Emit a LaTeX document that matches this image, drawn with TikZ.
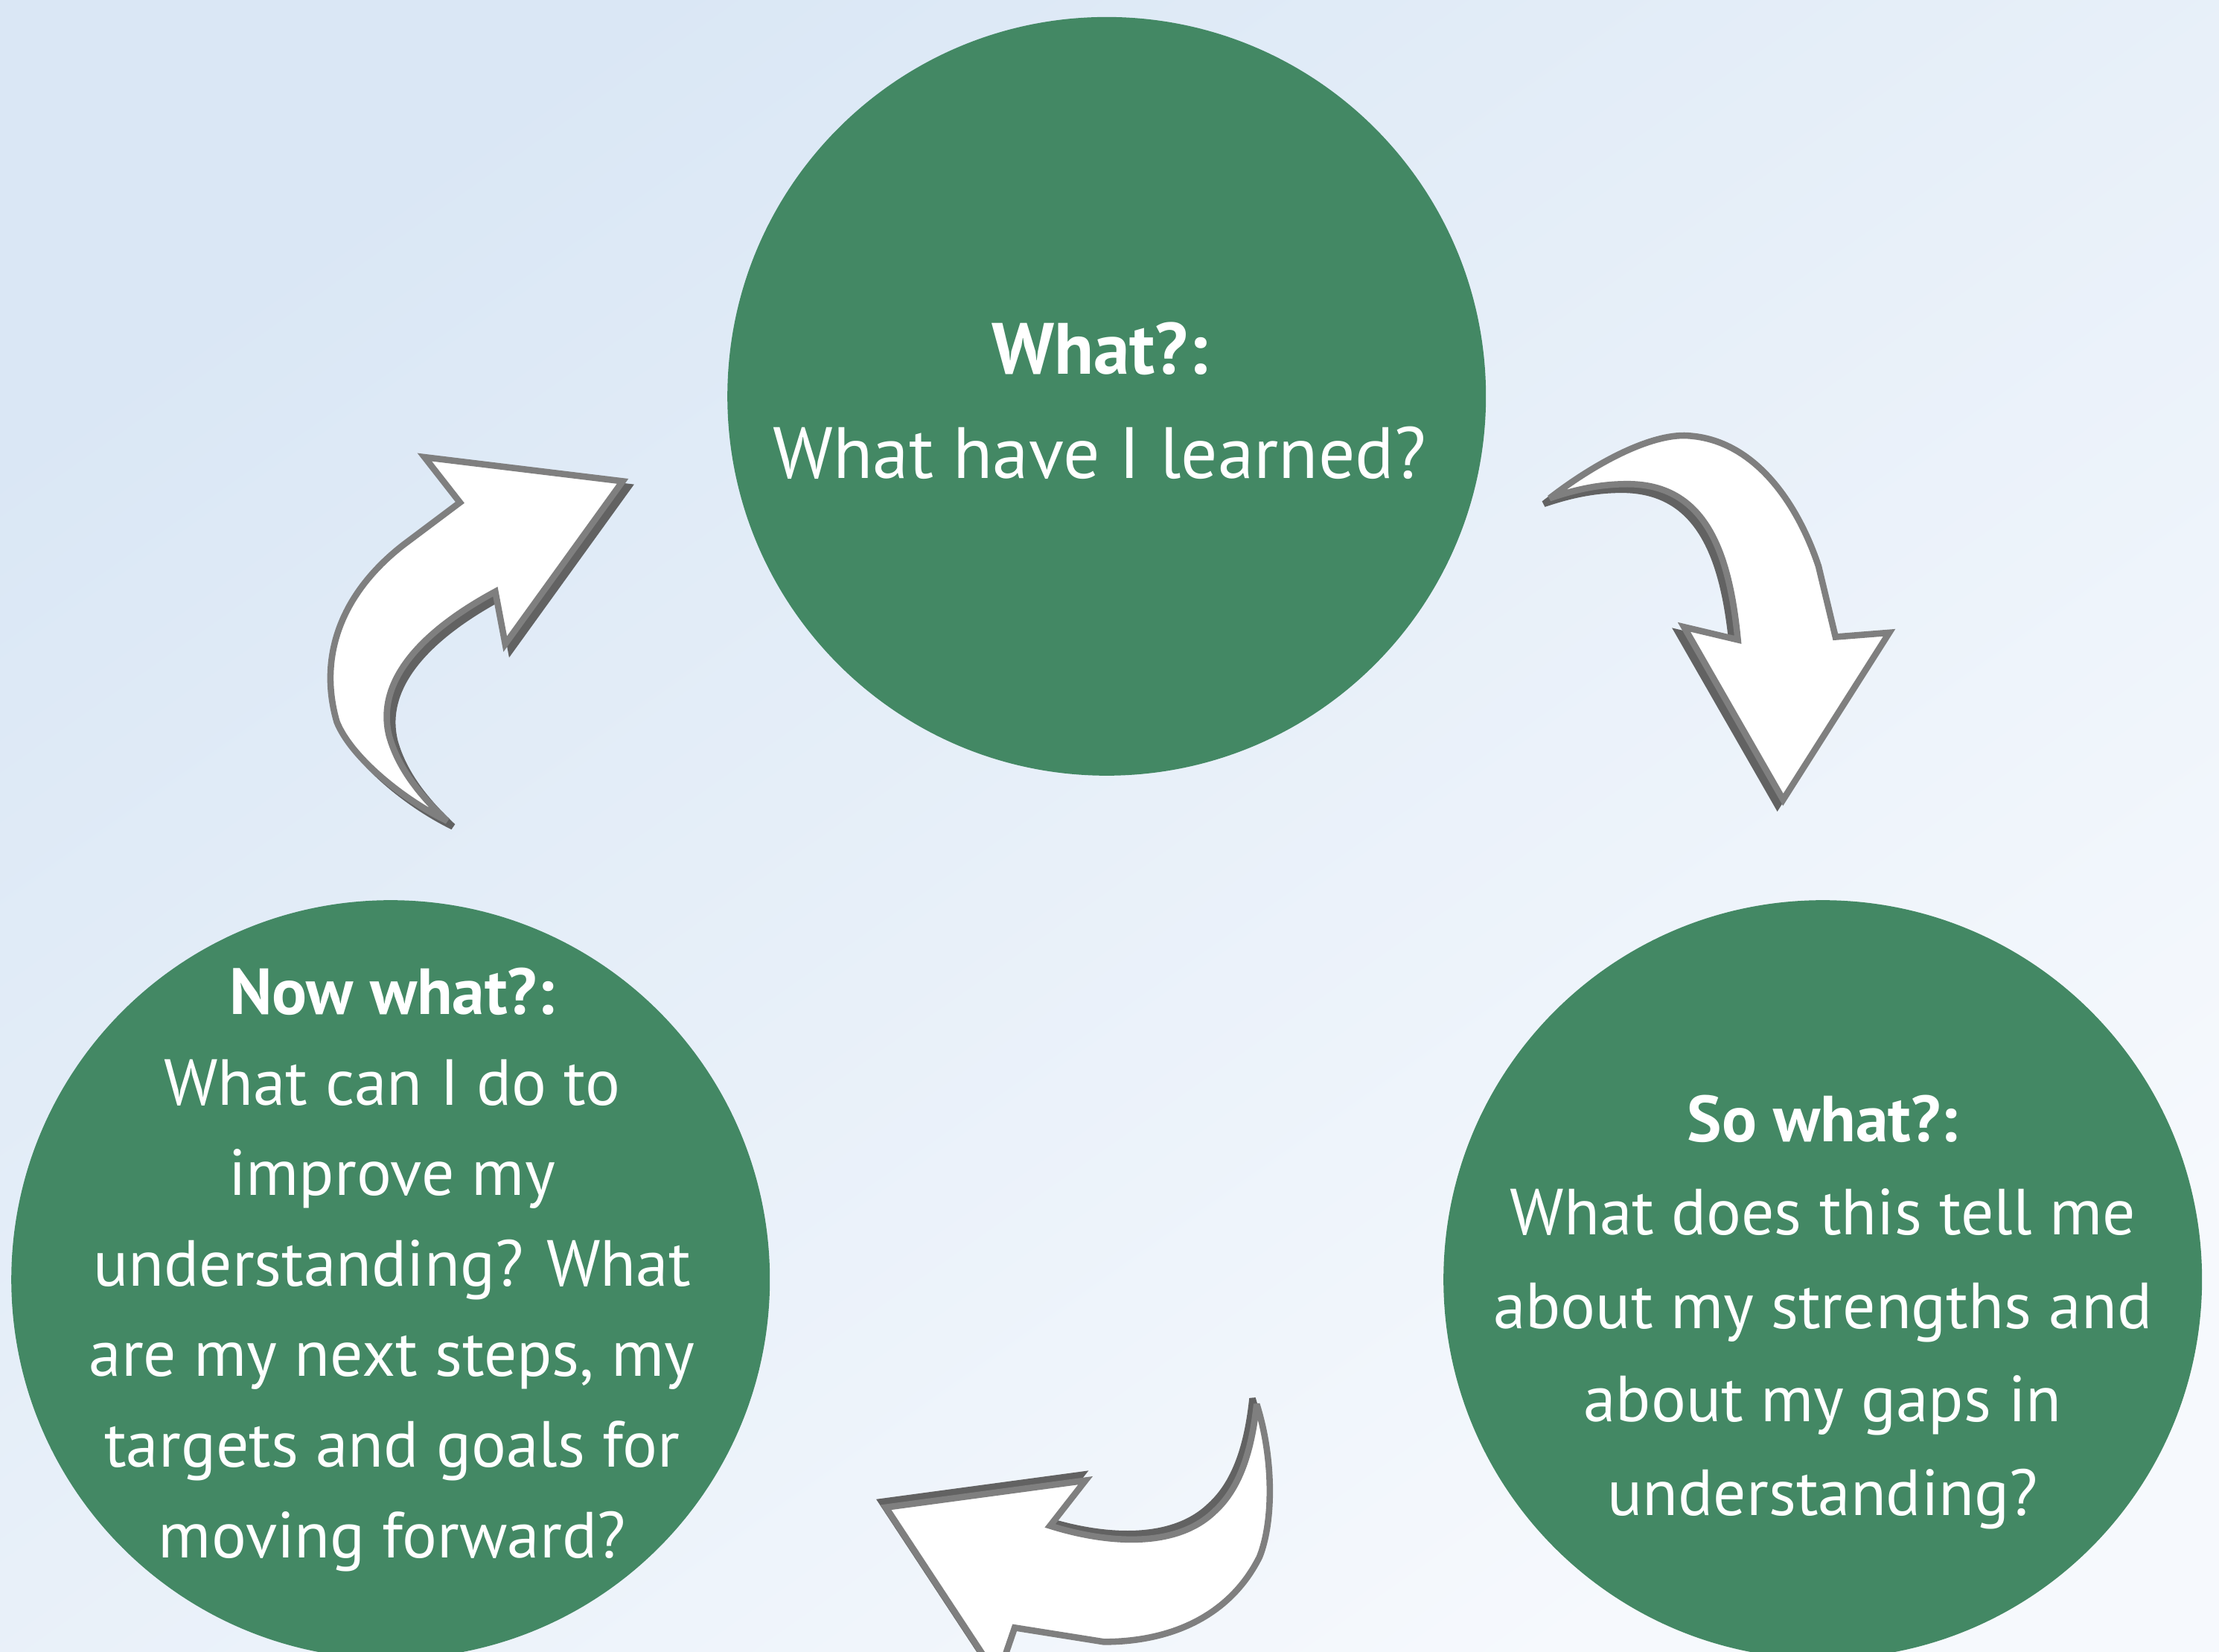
\documentclass[tikz,border=0pt]{standalone}
\usepackage{fontspec}
\setmainfont{PT Sans}
\usetikzlibrary{positioning}
\definecolor{leafgreen}{HTML}{438864}
\definecolor{bgtop}{HTML}{DAE7F5}
\definecolor{bgbot}{HTML}{F6F9FD}
\definecolor{arrline}{HTML}{7F7F7F}
\definecolor{arrside}{HTML}{626262}

% block arrows, in picture units
\newcommand{\arrowback}{(440,340) -- (357,455) -- (350,418)
  .. controls (300,445) and (265,480) .. (275,520)
  .. controls (282,545) and (300,565) .. (316,580)
  .. controls (285,565) and (248,535) .. (238,510)
  .. controls (225,465) and (240,420) .. (285,385)
  -- (325,355) -- (300,323) -- cycle}
\newcommand{\arrowdown}{(1095,352)
  .. controls (1130,325) and (1170,305) .. (1195,308)
  .. controls (1240,312) and (1270,355) .. (1285,400)
  -- (1297,450) -- (1335,447) -- (1260,565) -- (1190,443) -- (1228,452)
  .. controls (1222,390) and (1205,342) .. (1150,342)
  .. controls (1128,342) and (1110,347) .. cycle}
\newcommand{\arrowleft}{(888,992)
  .. controls (900,1030) and (900,1075) .. (890,1100)
  .. controls (870,1140) and (830,1160) .. (780,1160)
  -- (717,1150) -- (705,1185) -- (626,1065) -- (767,1046) -- (742,1078)
  .. controls (780,1090) and (830,1095) .. (858,1068)
  .. controls (878,1050) and (885,1020) .. cycle}

\begin{document}
\begin{tikzpicture}[x=0.1mm,y=-0.1mm,line join=miter,miter limit=3,
	bubble/.style={circle,fill=leafgreen,inner sep=0pt,minimum size=53.6mm},
	words/.style={text=white,align=center,inner sep=0pt},
	arrbody/.style={fill=white,draw=arrline,line width=0.45mm},
	arrdepth/.style={fill=arrside,draw=arrside,line width=0.45mm}]
	\useasboundingbox (0,0) rectangle (1568,1167);
	\clip (0,0) rectangle (1568,1167);
	\shade[top color=bgtop,bottom color=bgbot,shading angle=35] (0,0) rectangle (1568,1167);

	\node[bubble] (what) at (782,280) {};
	\node[bubble] (sowhat) at (1288,904) {};
	\node[bubble] (nowwhat) at (276,904) {};

	\node[words,font=\fontsize{14.6}{21}\selectfont] (whattxt) at (777,283)
		{\textbf{What?:}\\What have I learned?};
	\node[words,font=\fontsize{13.1}{18.8}\selectfont] (sowhattxt) at (1288,927)
		{\textbf{So what?:}\\What does this tell me\\about my strengths and\\about my gaps in\\understanding?};
	\node[words,font=\fontsize{13.1}{18.2}\selectfont] (nowwhattxt) at (277,897)
		{\textbf{Now what?:}\\What can I do to\\improve my\\understanding? What\\are my next steps, my\\targets and goals for\\moving forward?};

	% arrows: dark side first, then the white face
	\draw[arrdepth,shift={(4,4)}] \arrowback;
	\draw[arrbody] \arrowback;
	\draw[arrdepth,shift={(-4,4)}] \arrowdown;
	\draw[arrbody] \arrowdown;
	\draw[arrdepth,shift={(-3,-4)}] \arrowleft;
	\draw[arrbody] \arrowleft;
\end{tikzpicture}
\end{document}
